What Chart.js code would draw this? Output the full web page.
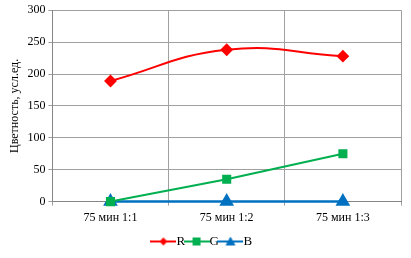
<!DOCTYPE html>
<html>
<head>
<meta charset="utf-8">
<script src="https://cdn.jsdelivr.net/npm/chart.js@4"></script>
<style>
  html, body { margin: 0; padding: 0; background: #fff; }
  #wrap { width: 411px; height: 258px; }
</style>
</head>
<body>
<div id="wrap"><canvas id="chart"></canvas></div>
<script>
// Chart data
const categories = ['75 мин 1:1', '75 мин 1:2', '75 мин 1:3'];
const rValues = [189, 238, 228];
const gValues = [0, 35, 75];
const bValues = [0, 0, 0];
const yTicks = [0, 50, 100, 150, 200, 250, 300];

const FONT = "'Liberation Serif', 'Times New Roman', serif";

// Legend icon: short line with the marker in the middle
function legendIcon(color, shape) {
    const c = document.createElement('canvas');
    c.width = 26; c.height = 10;
    const ctx = c.getContext('2d');
    ctx.strokeStyle = color;
    ctx.fillStyle = color;
    ctx.lineWidth = 2;
    ctx.beginPath();
    ctx.moveTo(0, 5); ctx.lineTo(26, 5);
    ctx.stroke();
    ctx.beginPath();
    if (shape === 'diamond') {
        ctx.moveTo(13, 1); ctx.lineTo(17, 5); ctx.lineTo(13, 9); ctx.lineTo(9, 5);
    } else if (shape === 'square') {
        ctx.rect(9, 1, 8, 8);
    } else {
        ctx.moveTo(13, 0); ctx.lineTo(18, 9); ctx.lineTo(8, 9);
    }
    ctx.closePath();
    ctx.fill();
    return c;
}

new Chart(document.getElementById('chart'), {
    type: 'line',
    data: {
        labels: categories,
        datasets: [
            {
                label: 'R',
                data: rValues,
                borderColor: '#ff0000',
                backgroundColor: '#ff0000',
                borderWidth: 2,
                tension: 0.45,
                pointStyle: 'rectRot',
                pointRadius: 5,
                clip: false,
                legendIcon: legendIcon('#ff0000', 'diamond')
            },
            {
                label: 'G',
                data: gValues,
                borderColor: '#00b050',
                backgroundColor: '#00b050',
                borderWidth: 2,
                tension: 0,
                pointStyle: 'rect',
                pointRadius: 5,
                clip: false,
                legendIcon: legendIcon('#00b050', 'square')
            },
            {
                label: 'B',
                data: bValues,
                borderColor: '#0070c0',
                backgroundColor: '#0070c0',
                borderWidth: 2.5,
                tension: 0,
                pointStyle: 'triangle',
                pointRadius: 6,
                clip: false,
                legendIcon: legendIcon('#0070c0', 'triangle')
            }
        ]
    },
    options: {
        responsive: true,
        maintainAspectRatio: false,
        animation: false,
        layout: { padding: { top: 5, right: 10, left: 8, bottom: 0 } },
        plugins: {
            tooltip: { enabled: false },
            legend: {
                position: 'bottom',
                labels: {
                    usePointStyle: true,
                    color: '#000',
                    font: { family: FONT, size: 13 },
                    padding: 5,
                    boxHeight: 10,
                    generateLabels(chart) {
                        return chart.data.datasets.map((ds, i) => ({
                            text: ds.label,
                            pointStyle: ds.legendIcon,
                            fillStyle: ds.borderColor,
                            strokeStyle: ds.borderColor,
                            fontColor: '#000',
                            lineWidth: 0,
                            hidden: false,
                            datasetIndex: i
                        }));
                    }
                }
            }
        },
        scales: {
            x: {
                offset: true,
                grid: {
                    offset: true,
                    color: '#a0a0a0',
                    tickLength: 4
                },
                border: { color: '#868686' },
                ticks: {
                    color: '#000',
                    font: { family: FONT, size: 12 },
                    maxRotation: 0,
                    padding: 5
                }
            },
            y: {
                min: 0,
                max: 300,
                afterBuildTicks(axis) {
                    axis.ticks = yTicks.map(v => ({ value: v }));
                },
                grid: { color: '#a0a0a0', tickLength: 4 },
                border: { color: '#868686' },
                ticks: {
                    color: '#000',
                    font: { family: FONT, size: 12 },
                    padding: 3
                },
                title: {
                    display: true,
                    text: 'Цветность, усл.ед.',
                    color: '#000',
                    font: { family: FONT, size: 12 },
                    padding: { top: 0, bottom: 2 }
                }
            }
        }
    }
});
</script>
</body>
</html>
